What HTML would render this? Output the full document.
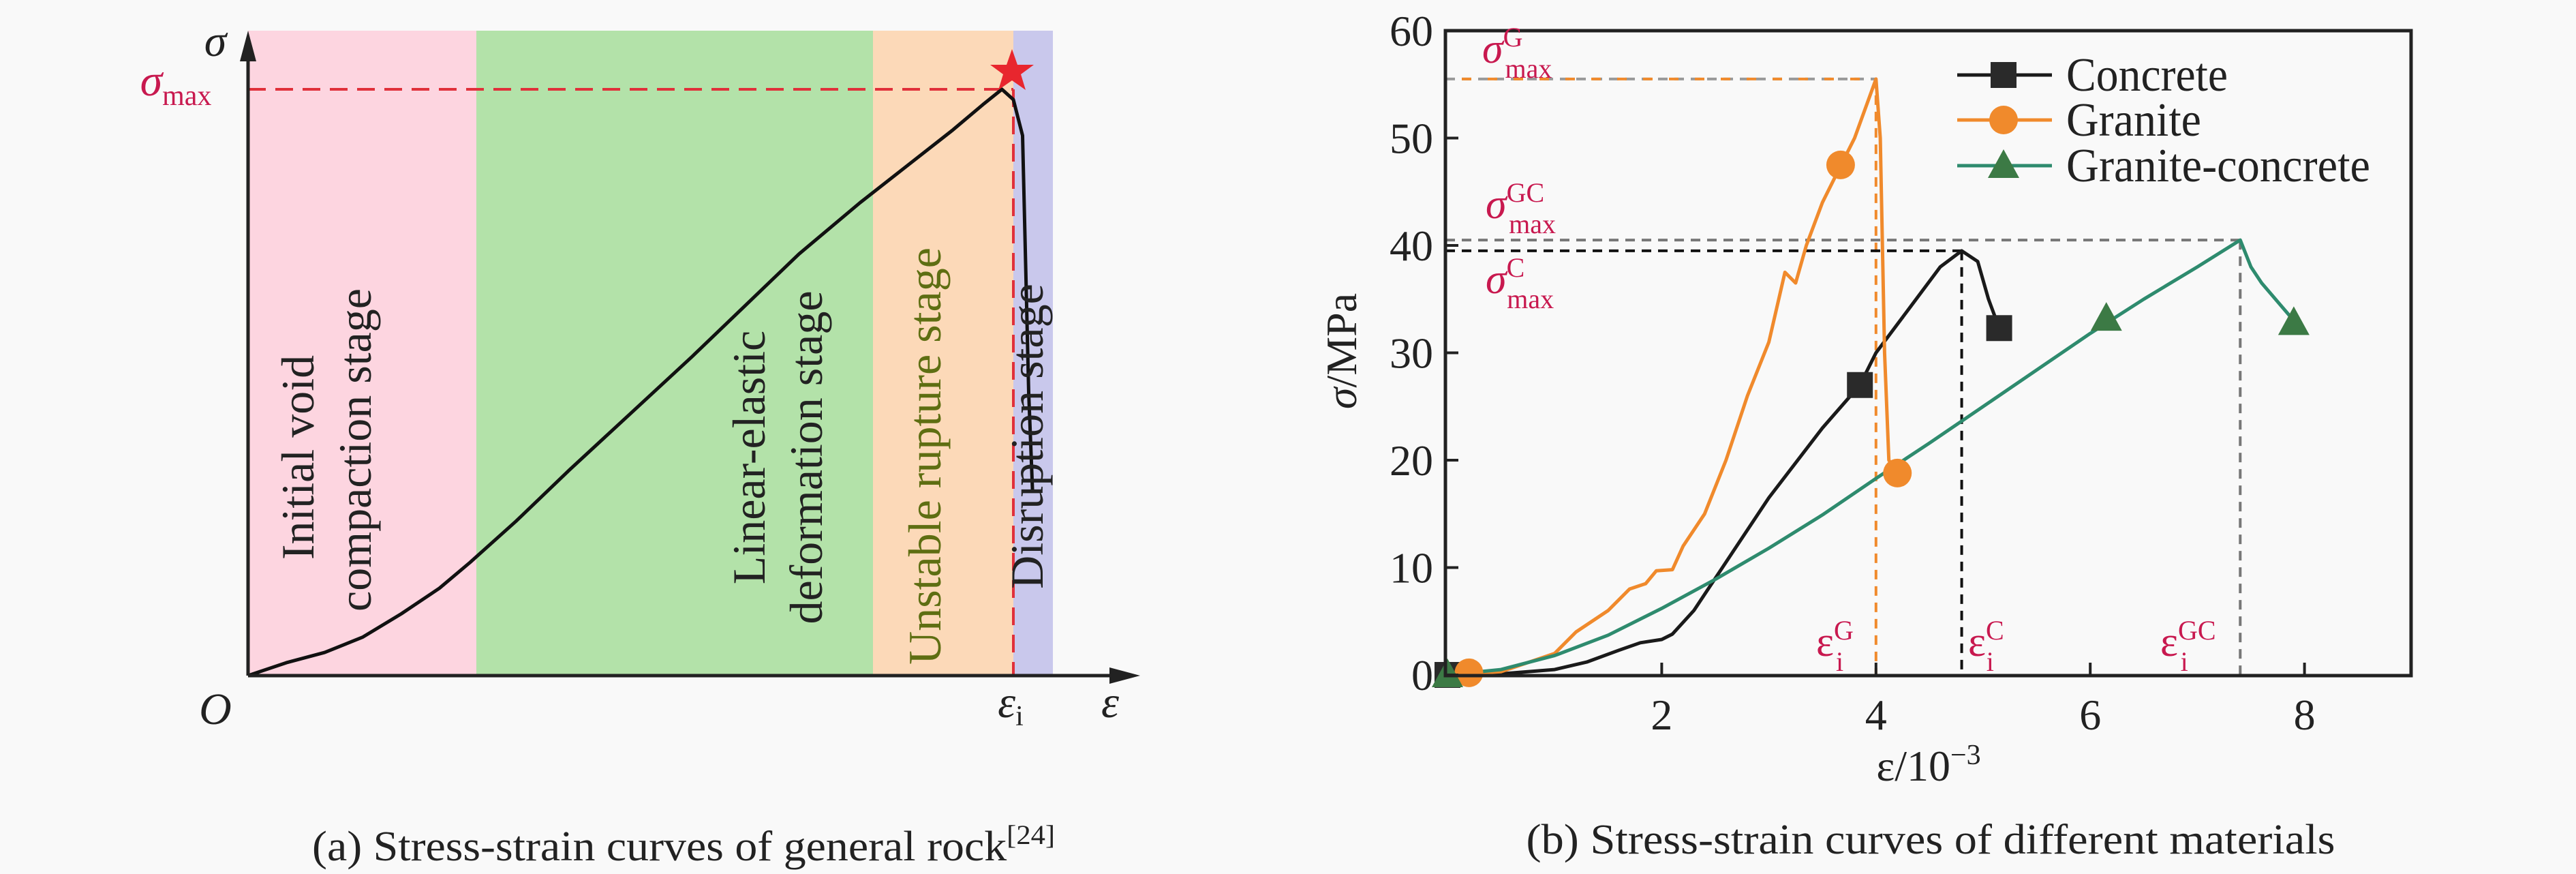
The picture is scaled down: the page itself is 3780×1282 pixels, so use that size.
<!DOCTYPE html>
<html><head><meta charset="utf-8"><style>
html,body{margin:0;padding:0;background:#f9f9f9;}
svg{display:block;font-family:"Liberation Serif",serif;}
</style></head><body>
<svg id="fig" width="3780" height="1282" viewBox="0 0 3780 1282" xmlns="http://www.w3.org/2000/svg">
<!-- Panel (a) -->
<g>
  <rect x="364" y="45" width="335" height="946" fill="#fdd5e0"/>
  <rect x="699" y="45" width="582" height="946" fill="#b3e2a9"/>
  <rect x="1281" y="45" width="206" height="946" fill="#fcd9b8"/>
  <rect x="1487" y="45" width="58" height="946" fill="#c9c8ec"/>
  <line x1="364" y1="131" x2="1487" y2="131" stroke="#e0303a" stroke-width="4" stroke-dasharray="26,14"/>
  <line x1="1487" y1="131" x2="1487" y2="991" stroke="#e0303a" stroke-width="4" stroke-dasharray="26,14"/>
  <path id="rockcurve" fill="none" stroke="#111" stroke-width="5" stroke-linejoin="round"/>
  <polygon points="1485,72 1493,95 1517,95 1498,109 1505,132 1485,118 1465,132 1472,109 1453,95 1477,95" fill="#e8262e"/>
  <line x1="364" y1="991" x2="364" y2="80" stroke="#222" stroke-width="5"/>
  <polygon points="364,45 352,90 376,90" fill="#222"/>
  <line x1="364" y1="991" x2="1640" y2="991" stroke="#222" stroke-width="5"/>
  <polygon points="1673,991 1628,979 1628,1003" fill="#222"/>
  <g font-size="68" fill="#222" text-anchor="middle">
    <text transform="translate(460,671) rotate(-90)">Initial void</text>
    <text transform="translate(544,660) rotate(-90)">compaction stage</text>
    <text transform="translate(1122,671) rotate(-90)">Linear-elastic</text>
    <text transform="translate(1206,671) rotate(-90)">deformation stage</text>
    <text transform="translate(1380,669) rotate(-90)" fill="#5e6e12">Unstable rupture stage</text>
    <text transform="translate(1530,640) rotate(-90)">Disruption stage</text>
  </g>
  <text x="316" y="82" font-size="66" font-style="italic" text-anchor="middle" fill="#222">σ</text>
  <text x="258" y="140" font-size="66" font-style="italic" text-anchor="middle" fill="#c8194f">σ<tspan font-style="normal" font-size="42" dy="14">max</tspan></text>
  <text x="316" y="1062" font-size="66" font-style="italic" text-anchor="middle" fill="#222">O</text>
  <text x="1483" y="1052" font-size="66" font-style="italic" text-anchor="middle" fill="#222">ε<tspan font-style="normal" font-size="42" dy="12">i</tspan></text>
  <text x="1629" y="1052" font-size="66" font-style="italic" text-anchor="middle" fill="#222">ε</text>
  <text x="1003" y="1262" font-size="62" text-anchor="middle" fill="#222" textLength="1090" lengthAdjust="spacingAndGlyphs">(a) Stress-strain curves of general rock<tspan font-size="40" dy="-24">[24]</tspan></text>
</g>
<!-- Panel (b) -->
<g>
  <g id="refs"></g>
  <g id="series"></g>
  <rect x="2121" y="45" width="1417" height="946" fill="none" stroke="#222" stroke-width="5"/>
  <g id="ticks"></g>
  <g id="legend"></g>
  <g fill="#c8194f">
    <text x="2175" y="92" font-style="italic" font-size="62">σ<tspan font-style="normal" font-size="40" dy="-24">G</tspan><tspan font-style="normal" font-size="40" dx="-26" dy="46">max</tspan></text>
    <text x="2180" y="320" font-style="italic" font-size="62">σ<tspan font-style="normal" font-size="40" dy="-24">GC</tspan><tspan font-style="normal" font-size="40" dx="-52" dy="46">max</tspan></text>
    <text x="2180" y="430" font-style="italic" font-size="62">σ<tspan font-style="normal" font-size="40" dy="-24">C</tspan><tspan font-style="normal" font-size="40" dx="-26" dy="46">max</tspan></text>
    <text x="2665" y="962" font-size="62">ε<tspan font-size="40" dy="-24">G</tspan><tspan font-size="40" dx="-26" dy="46">i</tspan></text>
    <text x="2888" y="962" font-size="62">ε<tspan font-size="40" dy="-24">C</tspan><tspan font-size="40" dx="-26" dy="46">i</tspan></text>
    <text x="3170" y="962" font-size="62">ε<tspan font-size="40" dy="-24">GC</tspan><tspan font-size="40" dx="-52" dy="46">i</tspan></text>
  </g>
  <text x="2830" y="1145" font-size="64" text-anchor="middle" fill="#222">ε/10<tspan font-size="42" dy="-24">−3</tspan></text>
  <text transform="translate(1990,515) rotate(-90)" font-size="64" text-anchor="middle" fill="#222"><tspan font-style="italic">σ</tspan>/MPa</text>
  <text x="2833" y="1252" font-size="62" text-anchor="middle" fill="#222" textLength="1187" lengthAdjust="spacingAndGlyphs">(b) Stress-strain curves of different materials</text>
</g>
<script>
// Panel (a) curve data (strain fraction, stress fraction)
const rockX = [0,0.05,0.1,0.15,0.2,0.25,0.29,0.35,0.42,0.5,0.58,0.65,0.72,0.80,0.86,0.92,0.96,0.985,1.0,1.012,1.016,1.02,1.025];
const rockY = [0,0.025,0.045,0.075,0.12,0.17,0.22,0.3,0.4,0.51,0.62,0.72,0.82,0.92,0.99,1.06,1.11,1.14,1.12,1.05,0.8,0.55,0.36];
// Panel (b) data
const xTicks = [2,4,6,8];
const yTicks = [0,10,20,30,40,50,60];
const concreteX = [0,0.5,1,1.3,1.6,1.8,2,2.1,2.3,2.6,3,3.5,3.85,4,4.3,4.6,4.8,4.95,5.05,5.15];
const concreteY = [0,0.1,0.5,1.2,2.3,3,3.3,3.8,6,10.5,16.5,23,27,30,34,38,39.5,38.5,35,32.3];
const graniteX = [0,0.5,1,1.2,1.5,1.7,1.85,1.95,2.1,2.2,2.4,2.6,2.8,3.0,3.15,3.25,3.35,3.5,3.7,3.8,4.0,4.04,4.08,4.12,4.2];
const graniteY = [0,0.3,2,4,6,8,8.5,9.7,9.8,12,15,20,26,31,37.5,36.5,40,44,48,50,55.5,50,30,20,18.8];
const gcX = [0,0.5,1,1.5,2,2.5,3,3.5,4,4.5,5,5.5,6,6.5,7,7.4,7.5,7.6,7.9];
const gcY = [0,0.5,1.8,3.7,6.2,8.9,11.8,14.9,18.3,21.6,25,28.4,31.8,35,38,40.5,38,36.5,33];
const concreteMk = [[0,0],[3.85,27],[5.15,32.3]];
const graniteMk = [[0.2,0.2],[3.67,47.5],[4.2,18.8]];
const gcMk = [[0,0],[6.15,33.2],[7.9,32.8]];
const peaks = [{x:4.0,y:55.5,c:'#f08a2c',c2:'#999'},{x:7.4,y:40.5,c:'#777',c2:'#777'},{x:4.8,y:39.5,c:'#111',c2:'#111'}];

const NS='http://www.w3.org/2000/svg';
function mk(tag,attrs,parent){const e=document.createElementNS(NS,tag);for(const k in attrs)e.setAttribute(k,attrs[k]);parent.appendChild(e);return e;}
const ax=v=>364+v*(1487-364), ay=v=>991-v*(991-131)/1.14;
let d='';rockX.forEach((x,i)=>{d+=(i?'L':'M')+ax(x).toFixed(1)+','+ay(rockY[i]).toFixed(1);});
document.getElementById('rockcurve').setAttribute('d',d);

const X=v=>2124+v*157.2, Y=v=>990-v*157.5/10;
const refs=document.getElementById('refs');
peaks.forEach(p=>{
  const h=mk('line',{x1:2121,y1:Y(p.y),x2:X(p.x),y2:Y(p.y),stroke:p.c2,'stroke-width':4,'stroke-dasharray':'14,10'},refs);
  
  
  if(p.c!==p.c2){const h2=mk('line',{x1:2121,y1:Y(p.y),x2:X(p.x),y2:Y(p.y),stroke:p.c,'stroke-width':4,'stroke-dasharray':'14,24','stroke-dashoffset':'-24'},refs);
    
    }
  const v=mk('line',{x1:X(p.x),y1:Y(p.y),x2:X(p.x),y2:990,stroke:p.c,'stroke-width':4,'stroke-dasharray':'14,10'},refs);
  
  
});
const ser=document.getElementById('series');
function line(xs,ys,col,name){let s='';xs.forEach((x,i)=>{s+=(i?'L':'M')+X(x).toFixed(1)+','+Y(ys[i]).toFixed(1);});
  const p=mk('path',{d:s,fill:'none',stroke:col,'stroke-width':5,'stroke-linejoin':'round'},ser);
  
  }
function marker(type,cx,cy,col,g){let e;
  if(type==='sq')e=mk('rect',{x:cx-19,y:cy-19,width:38,height:38,fill:col},g);
  else if(type==='ci')e=mk('circle',{cx:cx,cy:cy,r:21,fill:col},g);
  else e=mk('polygon',{points:`${cx},${cy-24} ${cx+23},${cy+18} ${cx-23},${cy+18}`,fill:col},g);
  return e;}
line(concreteX,concreteY,'#1a1a1a','concrete-line');
line(graniteX,graniteY,'#f08a2c','granite-line');
line(gcX,gcY,'#2e8b6e','granite-concrete-line');
concreteMk.forEach(m=>{const e=marker('sq',X(m[0]),Y(m[1]),'#2a2a2a',ser);
  
  });
graniteMk.forEach(m=>{const e=marker('ci',X(m[0]),Y(m[1]),'#f08a2c',ser);
  
  });
gcMk.forEach(m=>{const e=marker('tr',X(m[0]),Y(m[1]),'#3c7a45',ser);
  
  });
const tk=document.getElementById('ticks');
xTicks.forEach(t=>{const l=mk('line',{x1:X(t),y1:990,x2:X(t),y2:972,stroke:'#222','stroke-width':4},tk);
  
  
  const tx=mk('text',{x:X(t),y:1070,'font-size':64,'text-anchor':'middle',fill:'#222'},tk);tx.textContent=t;
  
  });
yTicks.forEach(t=>{const l=mk('line',{x1:2121,y1:Y(t),x2:2140,y2:Y(t),stroke:'#222','stroke-width':4},tk);
  
  
  const tx=mk('text',{x:2103,y:Y(t)+22,'font-size':64,'text-anchor':'end',fill:'#222'},tk);tx.textContent=t;
  
  });
const lg=document.getElementById('legend');
[['Concrete','#1a1a1a','sq','#2a2a2a',110,237],['Granite','#f08a2c','ci','#f08a2c',176,198],['Granite-concrete','#2e8b6e','tr','#3c7a45',243,446]].forEach(r=>{
  const l=mk('line',{x1:2872,y1:r[4],x2:3011,y2:r[4],stroke:r[1],'stroke-width':5},lg);
  
  
  const m=marker(r[2],2940,r[4],r[3],lg);
  
  
  const t=mk('text',{x:3032,y:r[4]+23,'font-size':70,fill:'#222',textLength:r[5],lengthAdjust:'spacingAndGlyphs'},lg);t.textContent=r[0];
  
  
});
</script>
</svg>
</body></html>
